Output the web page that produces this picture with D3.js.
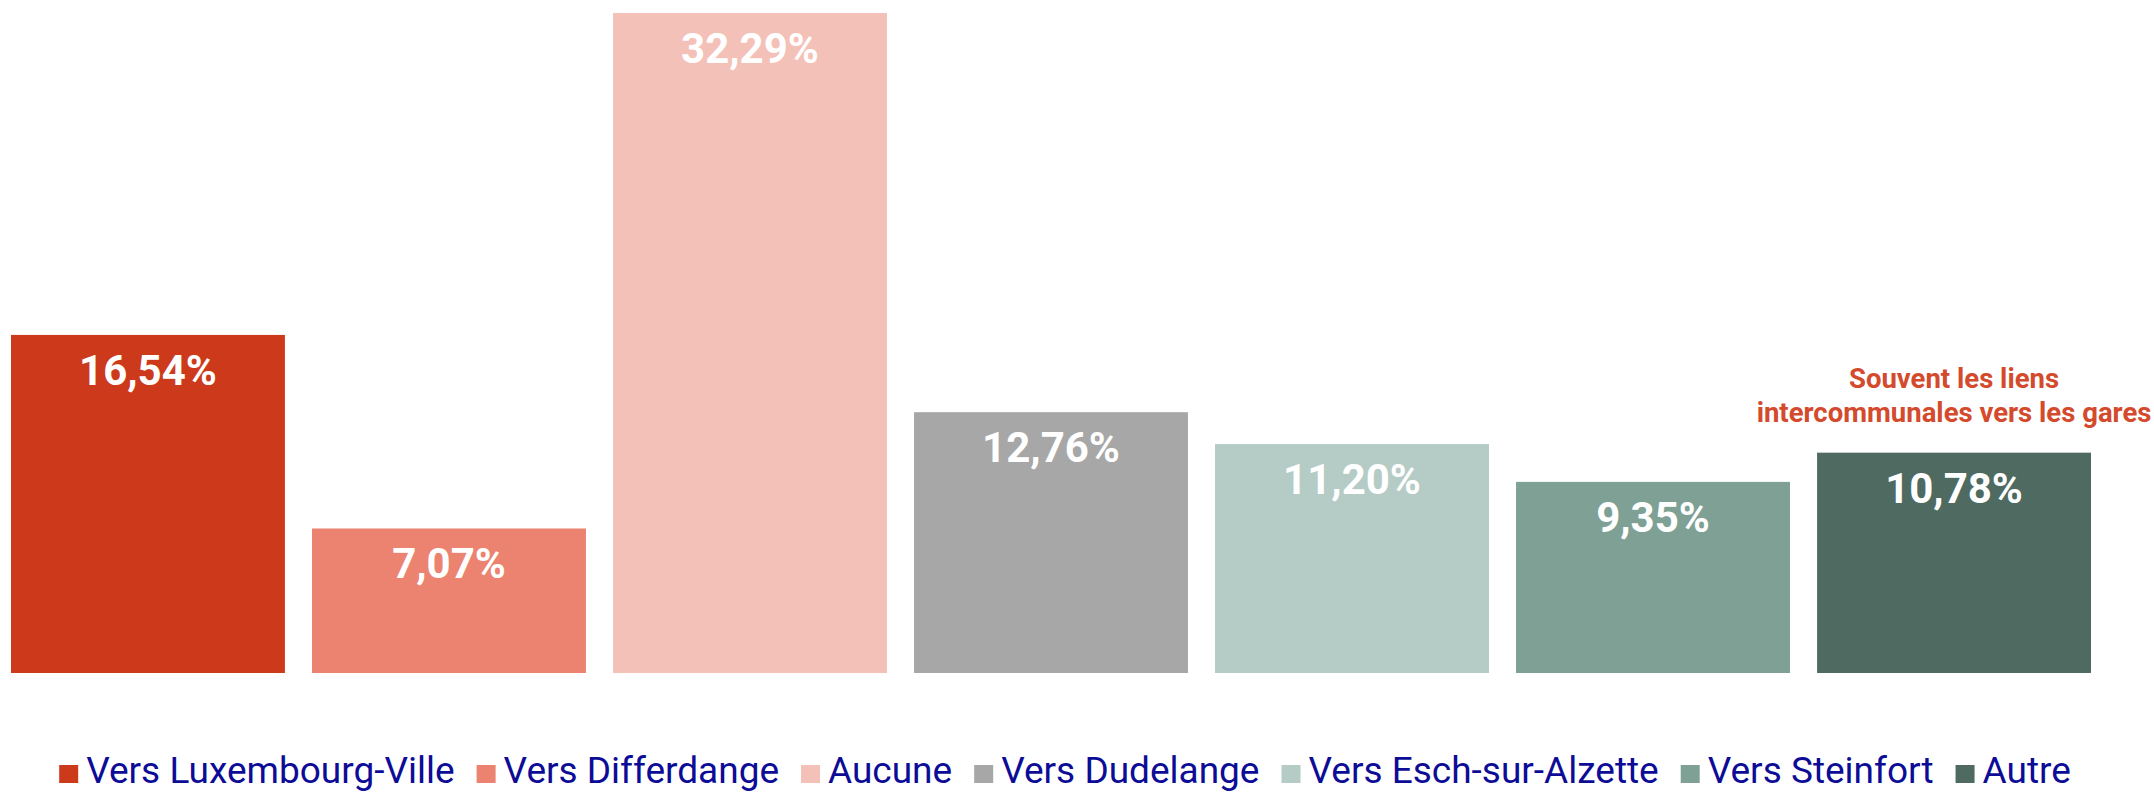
<!DOCTYPE html>
<html lang="fr">
<head>
    <meta charset="UTF-8">
    <title>Liens de bus</title>
    <script src="https://cdn.jsdelivr.net/npm/d3@7"></script>
    <style>
        body{
            margin: 0;
            background: #ffffff;
        }
        svg{
            display: block;
        }
    </style>
</head>
<body>
<svg width="2154" height="792"></svg>

<script>

    // Data
    const categories = ["Vers Luxembourg-Ville", "Vers Differdange", "Aucune", "Vers Dudelange",
        "Vers Esch-sur-Alzette", "Vers Steinfort", "Autre"];
    const values = [16.54, 7.07, 32.29, 12.76, 11.20, 9.35, 10.78];
    const colors = ["#cc3a1b", "#eb8370", "#f4c1b8", "#a7a7a7", "#b5cbc5", "#7fa195", "#4e6a61"];
    const noteLines = ["Souvent les liens", "intercommunales vers les gares"];

    let svg = d3.select("svg");

    // scales
    let x = d3.scaleBand()
        .domain(categories)
        .range([11, 2091])
        .paddingInner(0.09)
        .paddingOuter(0);

    let y = d3.scaleLinear()
        .domain([0, d3.max(values)])
        .range([673, 13]);

    const fmt = v => v.toFixed(2).replace(".", ",") + "%";

    // bars
    let bars = svg.append("g").attr("class", "bars")
        .selectAll("g")
        .data(categories)
        .enter()
        .append("g");

    bars.append("rect")
        .attr("x", d => x(d))
        .attr("y", (d, i) => y(values[i]))
        .attr("width", x.bandwidth())
        .attr("height", (d, i) => y(0) - y(values[i]))
        .attr("fill", (d, i) => colors[i]);

    // value labels inside the bars
    bars.append("text")
        .attr("x", d => x(d) + x.bandwidth() / 2)
        .attr("y", (d, i) => y(values[i]) + 50)
        .attr("text-anchor", "middle")
        .attr("fill", "#ffffff")
        .style("font-family", "Roboto, sans-serif")
        .style("font-weight", "700")
        .style("font-size", "42px")
        .text((d, i) => fmt(values[i]));

    // note above the last bar
    let last = categories[categories.length - 1];
    svg.append("text")
        .attr("x", x(last) + x.bandwidth() / 2)
        .attr("y", y(values[values.length - 1]) - 65)
        .attr("text-anchor", "middle")
        .attr("fill", "#d44a2c")
        .style("font-family", "Roboto, sans-serif")
        .style("font-weight", "700")
        .style("font-size", "27.5px")
        .selectAll("tspan")
        .data(noteLines)
        .enter()
        .append("tspan")
        .attr("x", x(last) + x.bandwidth() / 2)
        .attr("dy", (d, i) => i === 0 ? 0 : 34)
        .text(d => d);

    // legend, laid out by measured text width then centred
    let legend = svg.append("g").attr("class", "legend");
    let items = legend.selectAll("g")
        .data(categories)
        .enter()
        .append("g");

    items.append("rect")
        .attr("x", 0)
        .attr("y", 765)
        .attr("width", 19)
        .attr("height", 18)
        .attr("fill", (d, i) => colors[i]);

    items.append("text")
        .attr("x", 27)
        .attr("y", 783)
        .attr("fill", "#0c0c97")
        .style("font-family", "Roboto, sans-serif")
        .style("font-size", "37px")
        .text(d => d);

    let offset = 0;
    items.each(function () {
        let w = d3.select(this).select("text").node().getComputedTextLength();
        d3.select(this).attr("transform", "translate(" + offset + ",0)");
        offset += 27 + w + 22;
    });
    let total = offset - 22;
    legend.attr("transform", "translate(" + (1065 - total / 2) + ",0)");

</script>
</body>
</html>
